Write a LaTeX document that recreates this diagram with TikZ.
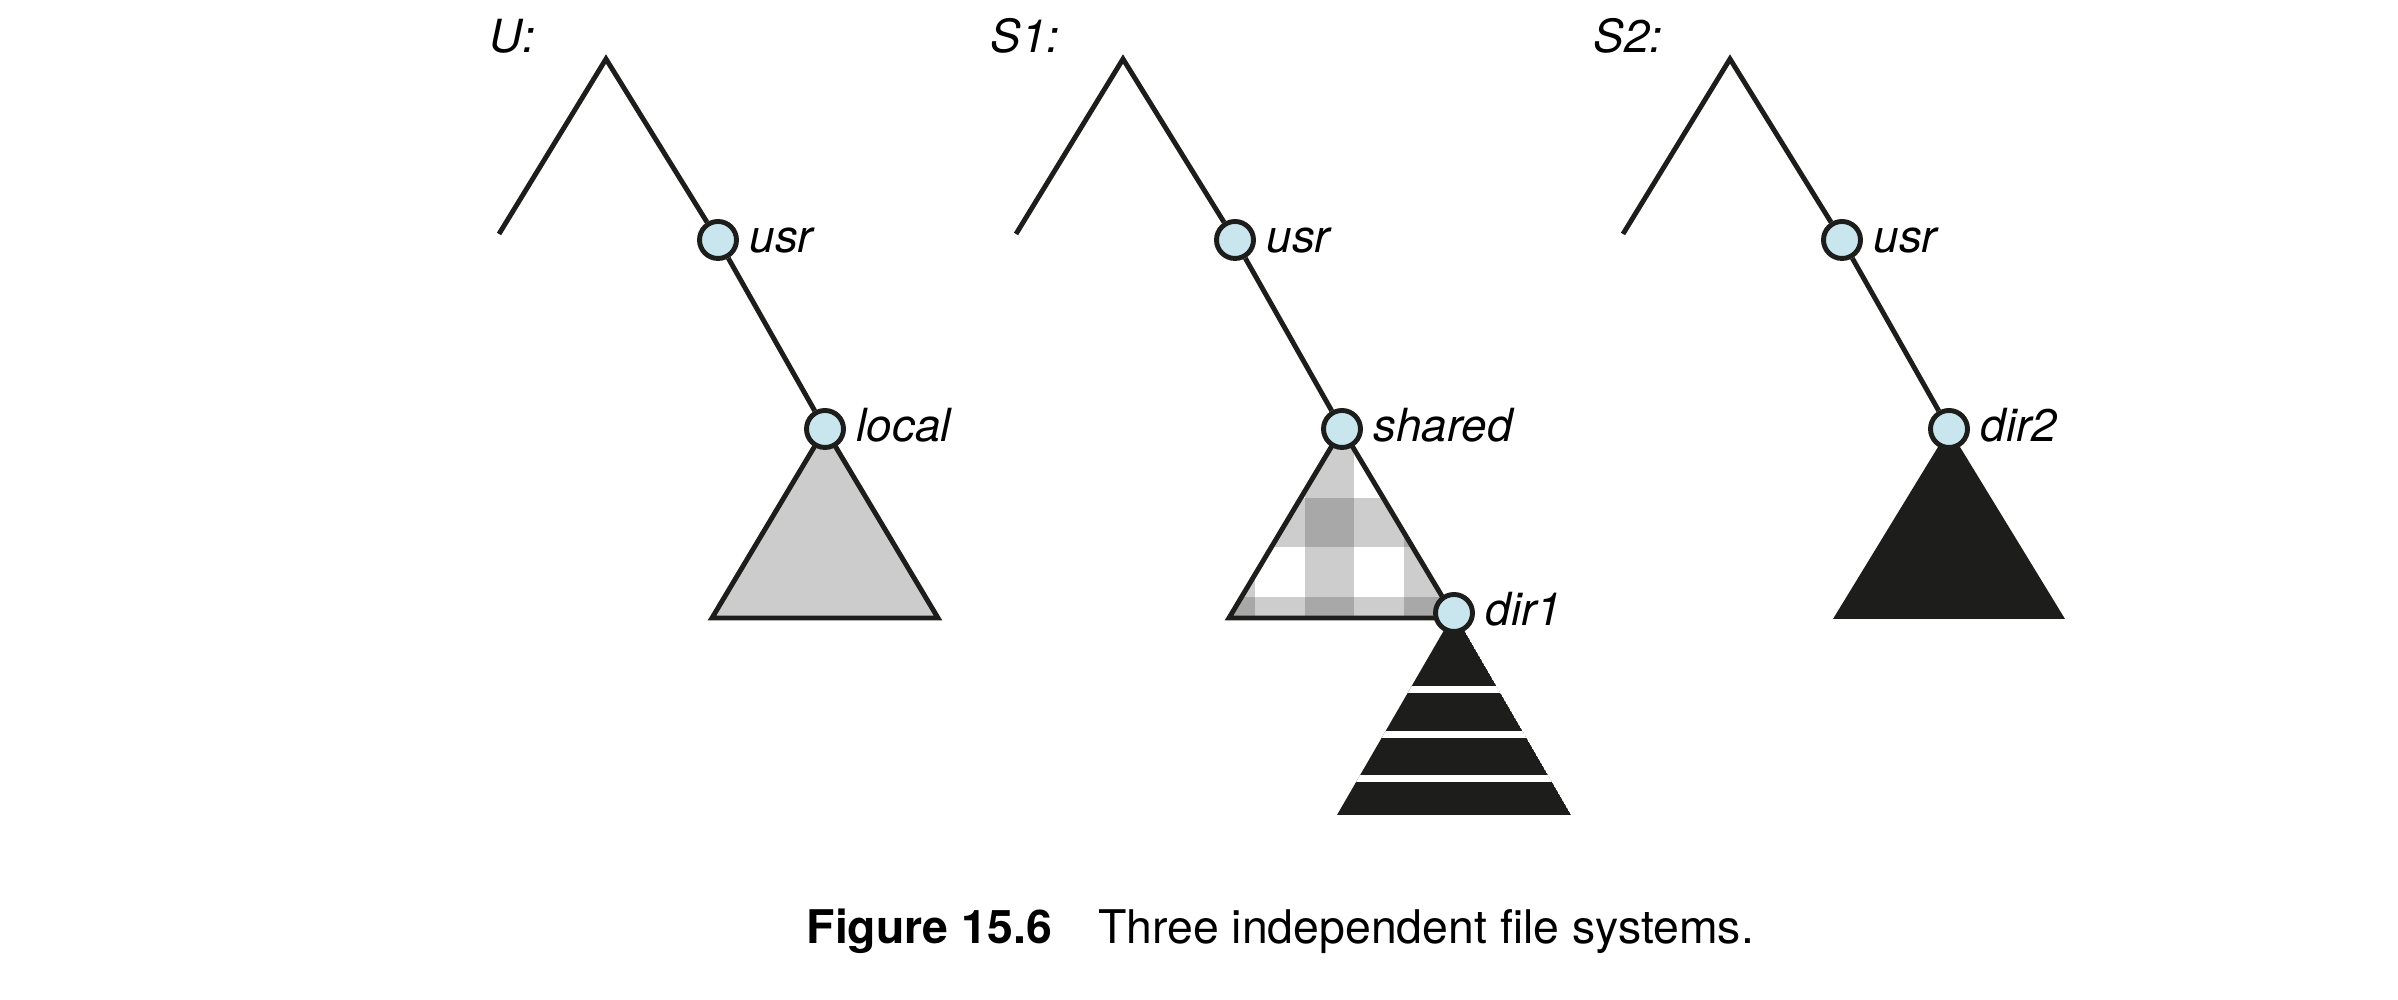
\documentclass[tikz,border=0pt]{standalone}
\usepackage{fontspec}
\setmainfont{TeX Gyre Heros}
\usepackage{tikz}
\usetikzlibrary{backgrounds}
\definecolor{ink}{HTML}{1D1D1B}
\definecolor{dirblue}{HTML}{C9E6EF}
\definecolor{shade}{HTML}{CCCCCC}
\definecolor{plaidlt}{HTML}{CDCDCD}
\definecolor{plaiddk}{HTML}{A8A8A8}

\begin{document}
\begin{tikzpicture}[
  font=\fontsize{13}{15}\selectfont,
  dirnode/.style={circle,draw=ink,fill=dirblue,line width=1.4pt,minimum size=0.37cm,inner sep=0pt},
  lbl/.style={font=\fontsize{13}{15}\selectfont\itshape,anchor=base west,inner sep=0pt},
  branch/.style={draw=ink,line width=1.4pt},
  gapline/.style={draw=white,line width=2pt}
]
\useasboundingbox (0,0) rectangle (23.98,10);
% U
\coordinate (ua) at (6.06,9.41);
\coordinate (ul) at (4.99,7.66);
\node[dirnode] (uusr)   at (7.18,7.60) {};
\node[dirnode] (ulocal) at (8.25,5.71) {};
\node[lbl] (uname)   at (4.89,9.47) {U:};
\node[lbl] (uusrl)   at ([xshift=0.31cm,yshift=-0.13cm]uusr.center) {usr};
\node[lbl] (ulocall) at ([xshift=0.31cm,yshift=-0.13cm]ulocal.center) {local};
\draw[branch] (ul) -- (ua) -- (uusr); \draw[branch] (uusr) -- (ulocal);
% S1
\coordinate (s1a) at (11.23,9.41);
\coordinate (s1l) at (10.16,7.66);
\node[dirnode] (s1usr)    at (12.35,7.60) {};
\node[dirnode] (s1shared) at (13.42,5.71) {};
\node[dirnode] (s1dir1)   at (14.54,3.87) {};
\node[lbl] (s1name)    at (9.90,9.47) {S1:};
\node[lbl] (s1usrl)    at ([xshift=0.31cm,yshift=-0.13cm]s1usr.center) {usr};
\node[lbl] (s1sharedl) at ([xshift=0.31cm,yshift=-0.13cm]s1shared.center) {shared};
\node[lbl] (s1dir1l)   at ([xshift=0.31cm,yshift=-0.13cm]s1dir1.center) {dir1};
\draw[branch] (s1l) -- (s1a) -- (s1usr); \draw[branch] (s1usr) -- (s1shared);
% S2
\coordinate (s2a) at (17.30,9.41);
\coordinate (s2l) at (16.23,7.66);
\node[dirnode] (s2usr)  at (18.42,7.60) {};
\node[dirnode] (s2dir2) at (19.49,5.71) {};
\node[lbl] (s2name)  at (15.93,9.47) {S2:};
\node[lbl] (s2usrl)  at ([xshift=0.31cm,yshift=-0.13cm]s2usr.center) {usr};
\node[lbl] (s2dir2l) at ([xshift=0.31cm,yshift=-0.13cm]s2dir2.center) {dir2};
\draw[branch] (s2l) -- (s2a) -- (s2usr); \draw[branch] (s2usr) -- (s2dir2);
% subtrees
\begin{scope}[on background layer]
\path[branch,fill=shade] (ulocal.center) -- ++(-1.13,-1.89) -- ++(2.26,0) -- cycle;
\begin{scope}
  \clip (s1shared.center) -- ++(-1.13,-1.89) -- ++(2.26,0) -- cycle;
  \foreach \xa/\xb in {12.0/12.55,13.05/13.54,14.04/14.8}
    \fill[plaidlt] (\xa,3.5) rectangle (\xb,5.8);
  \foreach \ya/\yb in {4.53/5.02,3.5/4.03}
    \fill[plaidlt] (12,\ya) rectangle (14.8,\yb);
  \foreach \xa/\xb in {12.0/12.55,13.05/13.54,14.04/14.8}
    \foreach \ya/\yb in {4.53/5.02,3.5/4.03}
      \fill[plaiddk] (\xa,\ya) rectangle (\xb,\yb);
\end{scope}
\path[branch] (s1shared.center) -- ++(-1.13,-1.89) -- ++(2.26,0) -- cycle;
\begin{scope}
  \clip (s1dir1.center) -- ++(-1.17,-2.02) -- ++(2.34,0) -- cycle;
  \fill[ink] (s1dir1.center) -- ++(-1.17,-2.02) -- ++(2.34,0) -- cycle;
  \foreach \y in {3.10,2.65,2.21}
    \draw[gapline] (13.2,\y) -- (15.9,\y);
\end{scope}
\fill[ink] (s2dir2.center) -- ++(-1.16,-1.90) -- ++(2.32,0) -- cycle;
\end{scope}
\node[anchor=base west,inner sep=0pt,font=\fontsize{13.2}{15}\selectfont] (cap) at (8.06,0.56) {\textbf{Figure 15.6}\quad Three independent file systems.};
\end{tikzpicture}
\end{document}
